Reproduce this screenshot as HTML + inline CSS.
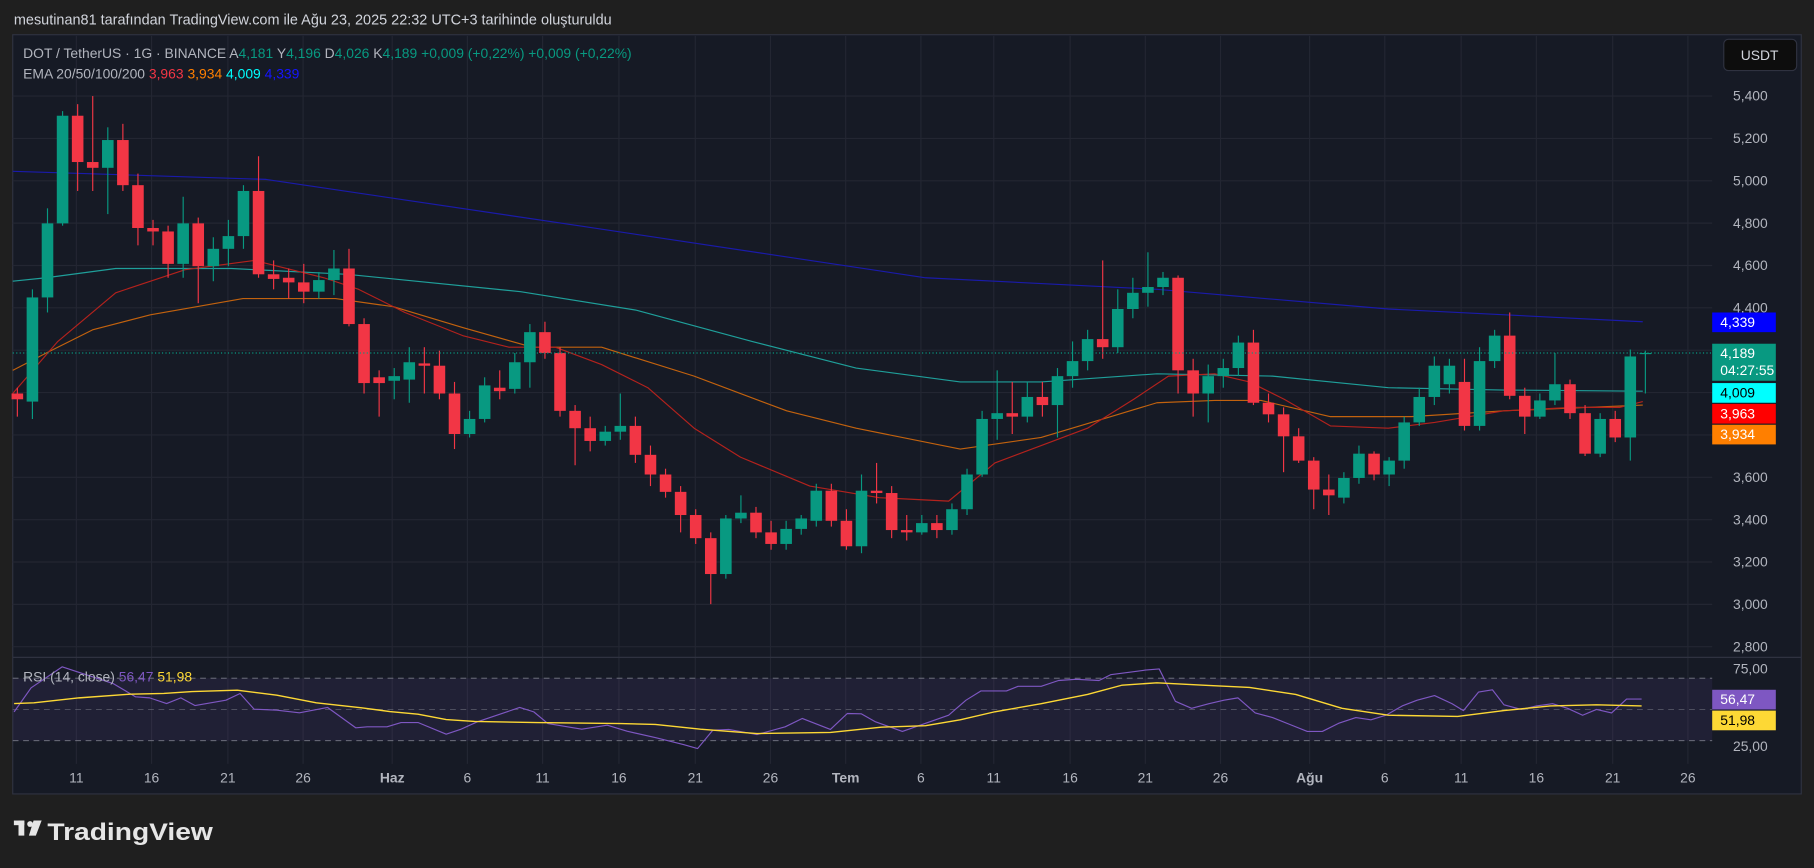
<!DOCTYPE html>
<html><head><meta charset="utf-8">
<style>
html,body{margin:0;padding:0;background:#1f1f1f;}
svg{display:block;}
text{font-family:"Liberation Sans",sans-serif;}
</style></head>
<body>
<svg id="s" width="1814" height="868" viewBox="0 0 1568 750" preserveAspectRatio="none" xmlns="http://www.w3.org/2000/svg">
<rect x="0" y="0" width="1568" height="750" fill="#1f1f1f"/>
<text x="12" y="21" fill="#d1d4dc" font-size="12.5">mesutinan81 tarafından TradingView.com ile Ağu 23, 2025 22:32 UTC+3 tarihinde oluşturuldu</text>
<rect x="11" y="30" width="1546" height="656" fill="#161a25" stroke="#2f3240" stroke-width="1"/>
<g id="grid"></g>
<rect x="11" y="586" width="1469" height="54" fill="#7e57c2" fill-opacity="0.1"/>
<line x1="11" y1="586" x2="1480" y2="586" stroke="#787b86" stroke-dasharray="5,4" stroke-width="0.8"/>
<line x1="11" y1="613" x2="1480" y2="613" stroke="#787b86" stroke-dasharray="5,4" stroke-width="0.8" opacity="0.6"/>
<line x1="11" y1="640" x2="1480" y2="640" stroke="#787b86" stroke-dasharray="5,4" stroke-width="0.8"/>
<line x1="11" y1="568" x2="1557" y2="568" stroke="#2f3240"/>
<g id="ema"></g>
<g id="candles"></g>
<line x1="11" y1="305" x2="1480" y2="305" stroke="#089981" stroke-dasharray="1,2" stroke-width="1"/>
<g id="rsi"></g>
<g id="labels"></g>
<text x="20" y="50" fill="#b2b5be" font-size="12">DOT / TetherUS · 1G · BINANCE  A<tspan fill="#089981">4,181</tspan>  Y<tspan fill="#089981">4,196</tspan>  D<tspan fill="#089981">4,026</tspan>  K<tspan fill="#089981">4,189</tspan> <tspan fill="#089981"> +0,009 (+0,22%)  +0,009 (+0,22%)</tspan></text>
<text x="20" y="68" fill="#b2b5be" font-size="12">EMA 20/50/100/200 <tspan fill="#f23645">3,963</tspan> <tspan fill="#ff7f00">3,934</tspan> <tspan fill="#00ffff">4,009</tspan> <tspan fill="#1515ff">4,339</tspan></text>
<text x="20" y="589" fill="#b2b5be" font-size="12">RSI (14, close) <tspan fill="#7e57c2">56,47</tspan> <tspan fill="#fdd835">51,98</tspan></text>
<rect x="1490" y="34" width="63" height="27" rx="4" fill="#0d0d0d" stroke="#2f3240"/>
<text x="1521" y="52" fill="#d1d4dc" font-size="12" text-anchor="middle">USDT</text>
<g transform="translate(12,709)" fill="#e6e6e6">
<rect x="0" y="0" width="9" height="4"/><rect x="4" y="0" width="5" height="13"/>
<circle cx="14" cy="3" r="2.5"/><polygon points="17,0 24,0 19,13 13,13"/>
<text x="29" y="17" font-size="21" font-weight="bold" fill="#e6e6e6" textLength="143" lengthAdjust="spacingAndGlyphs">TradingView</text>
</g>
</svg>
<script>
const NS="http://www.w3.org/2000/svg";
function el(p,t,a,txt){const e=document.createElementNS(NS,t);for(const k in a)e.setAttribute(k,a[k]);if(txt!==undefined)e.textContent=txt;document.getElementById(p).appendChild(e);return e;}
const xs=[[66,"11"],[131,"16"],[197,"21"],[262,"26"],[339,"Haz"],[404,"6"],[469,"11"],[535,"16"],[601,"21"],[666,"26"],[731,"Tem"],[796,"6"],[859,"11"],[925,"16"],[990,"21"],[1055,"26"],[1132,"Ağu"],[1197,"6"],[1263,"11"],[1328,"16"],[1394,"21"],[1459,"26"]];
xs.forEach(([x,l])=>{el("grid","line",{x1:x,y1:31,x2:x,y2:660,stroke:"#232632"});
 el("labels","text",{x:x,y:676,fill:"#b2b5be","font-size":"12","text-anchor":"middle","font-weight":/[a-z]/i.test(l)?"bold":"normal"},l);});
for(let i=0;i<14;i++){const p=5400-i*200;const y=83+i*36.6;
 el("grid","line",{x1:11,y1:y,x2:1480,y2:y,stroke:"#232632"});
 el("labels","text",{x:1528,y:y+4,fill:"#b2b5be","font-size":"12","text-anchor":"end"},p.toLocaleString("en-US").replace(".",","));}
el("labels","text",{x:1528,y:582,fill:"#b2b5be","font-size":"12","text-anchor":"end"},"75,00");
el("labels","text",{x:1528,y:649,fill:"#b2b5be","font-size":"12","text-anchor":"end"},"25,00");
const C=[[340,345,335,360],[347,257,250,362],[257,193,180,270],[193,100,96,195],[100,140,90,165],[140,145,83,165],[145,121,110,185],[121,160,107,165],[160,197,150,212],[197,200,190,212],[200,228,195,240],[228,193,170,240],[193,230,188,262],[230,215,205,243],[215,204,190,230],[204,165,160,215],[165,237,135,240],[237,241,225,250],[240,244,232,258],[244,252,228,262],[252,242,235,258],[242,232,216,255],[232,280,215,282],[280,331,275,340],[326,331,320,360],[329,325,318,345],[328,313,300,348],[314,316,300,340],[316,340,303,345],[340,375,330,388],[375,362,355,378],[362,333,326,365],[335,338,320,345],[336,313,305,340],[313,287,280,335],[287,305,278,310],[305,355,300,360],[355,370,350,402],[370,381,360,390],[381,373,368,385],[373,368,340,380],[368,393,360,400],[393,410,385,420],[410,425,405,430],[425,445,420,460],[445,465,440,470],[465,496,460,522],[496,448,445,500],[448,443,428,452],[443,460,438,465],[460,470,450,475],[470,457,450,475],[457,448,445,462],[450,424,418,455],[424,450,418,455],[450,472,440,475],[472,424,410,478],[424,426,400,435],[426,458,420,465],[458,460,445,467],[460,452,445,462],[452,458,445,465],[458,440,435,462],[440,410,405,445],[410,362,355,412],[362,357,320,380],[357,360,330,375],[360,343,330,365],[343,350,330,360],[350,325,318,378],[325,312,295,335],[312,293,285,320],[293,300,225,310],[300,267,250,305],[267,253,240,275],[253,248,218,265],[248,240,235,255],[240,320,238,340],[320,340,310,360],[340,325,315,365],[325,318,310,335],[318,296,290,325],[296,348,285,350],[348,358,340,365],[358,377,352,408],[377,398,370,400],[398,423,395,440],[423,428,410,445],[430,413,408,435],[413,392,385,418],[392,410,390,415],[410,398,395,420],[398,365,360,405],[365,343,335,368],[343,316,308,350],[332,316,310,340],[330,368,310,372],[368,312,300,372],[312,290,285,318],[290,342,270,345],[342,360,335,375],[360,346,340,362],[346,332,305,350],[332,357,328,362],[357,392,350,394],[392,362,357,395],[362,378,355,382],[378,308,302,398],[306,305,303,340]];
C.forEach((c,i)=>{const x=15+i*13.03;const [o,cl,h,l]=c;const up=cl<=o;const col=up?"#089981":"#f23645";
 el("candles","line",{x1:x,y1:h,x2:x,y2:l,stroke:col,"stroke-width":1});
 el("candles","rect",{x:x-5,y:Math.min(o,cl),width:10,height:Math.max(1,Math.abs(o-cl)),fill:col});});
function pl(g,pts,col,w){el(g,"polyline",{points:pts.map(p=>p.join(",")).join(" "),fill:"none",stroke:col,"stroke-width":w||1,"stroke-linejoin":"round"});}
pl("ema",[[11,148],[230,155],[500,195],[800,240],[1000,250],[1200,267],[1420,278]],"#1a1aaa",1);
pl("ema",[[11,243],[40,240],[100,232],[200,232],[300,237],[450,252],[550,268],[650,295],[740,318],[830,330],[900,330],[1000,323],[1100,325],[1200,335],[1300,337],[1420,338]],"#1f9f9a",1);
pl("ema",[[11,320],[40,305],[80,285],[130,272],[210,258],[290,258],[340,265],[400,283],[460,300],[520,300],[600,325],[680,355],[740,370],[830,388],[900,378],[960,360],[1000,348],[1050,346],[1090,346],[1150,360],[1220,360],[1300,355],[1420,350]],"#c2620e",1);
pl("ema",[[11,340],[50,295],[100,253],[160,233],[220,225],[280,240],[310,250],[350,270],[400,290],[440,300],[480,300],[520,315],[560,335],[600,370],[640,395],[700,420],[760,430],[820,433],[860,400],[900,385],[940,370],[980,345],[1010,325],[1050,323],[1080,330],[1110,345],[1150,368],[1200,370],[1240,365],[1300,355],[1360,352],[1400,352],[1420,347]],"#b3221d",1);
const cv=a=>a.map(([x,y])=>[+(x/2.048).toFixed(1),+(561.8+y*0.288).toFixed(1)]);
const P=cv([[25,185],[55,113],[110,50],[200,100],[240,140],[265,143],[295,160],[320,143],[345,166],[400,150],[425,130],[450,177],[490,180],[530,188],[580,172],[630,233],[650,230],[685,230],[710,217],[740,217],[790,252],[815,238],[845,215],[920,172],[945,185],[970,220],[1030,237],[1075,225],[1110,243],[1160,262],[1210,283],[1235,295],[1262,240],[1290,238],[1340,253],[1390,230],[1420,205],[1470,238],[1500,190],[1525,191],[1550,215]]).concat([[780,632],[800,625],[820,618],[835,605],[848,597],[870,597],[880,593],[900,593],[915,588],[930,587],[950,588],[960,583],[975,581],[990,579],[1002,578],[1016,606],[1030,612],[1045,608],[1058,605],[1070,603],[1085,616],[1100,620],[1115,626],[1130,632],[1143,632],[1157,625],[1172,620],[1185,622],[1198,618],[1212,610],[1225,605],[1240,601],[1255,608],[1265,614],[1278,598],[1290,596],[1300,609],[1315,613],[1328,610],[1342,608],[1355,612],[1368,618],[1380,613],[1393,616],[1406,604],[1419,604]]);
const Y=cv([[25,160],[60,158],[140,143],[230,132],[290,130],[340,124],[420,120],[490,135],[560,158],[640,173],[690,184],[740,192],[790,208],[840,214],[950,217],[1100,220],[1160,223],[1240,237],[1340,250],[1470,247],[1560,231]]).concat([[800,627],[830,622],[860,615],[900,608],[940,600],[970,592],[1000,590],[1040,592],[1080,594],[1120,600],[1160,612],[1200,618],[1260,619],[1300,614],[1340,610],[1380,609],[1419,610]]);
pl("rsi",P,"#7e57c2",1);pl("rsi",Y,"#fdd835",1.2);
function tag(y,h,bg,fg,t,t2){el("labels","rect",{x:1480,y:y,width:55,height:h,fill:bg});
 el("labels","text",{x:1487,y:y+12.5,fill:fg,"font-size":"12"},t);
 if(t2)el("labels","text",{x:1487,y:y+27,fill:fg,"font-size":"12"},t2);}
tag(270,17,"#0000ff","#fff","4,339");
tag(297,32,"#089981","#fff","4,189","04:27:55");
tag(331,17,"#00ffff","#000","4,009");
tag(349,17,"#ff0000","#fff","3,963");
tag(367,17,"#ff7f00","#fff","3,934");
tag(596,17,"#7e57c2","#fff","56,47");
tag(614,17,"#fdd835","#000","51,98");
</script>
</body></html>
